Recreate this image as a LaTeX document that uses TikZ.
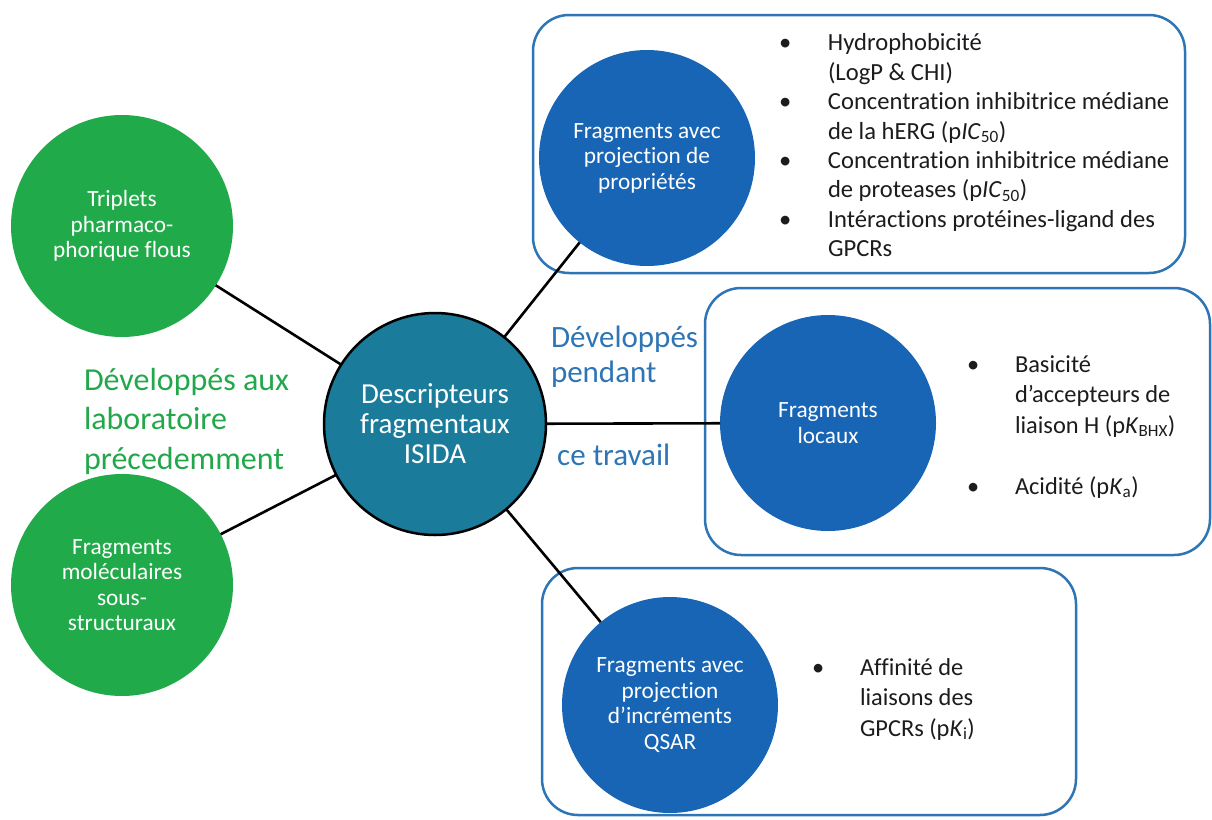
\documentclass[tikz,border=0pt]{standalone}
\usepackage{fontspec}
\setmainfont{Carlito}[Ligatures=NoCommon]
\definecolor{cgreen}{HTML}{21AA4A}
\definecolor{cblue}{HTML}{1765B4}
\definecolor{cteal}{HTML}{1A7B9A}
\definecolor{boxblue}{HTML}{2E75B6}
\definecolor{textgreen}{HTML}{22A84B}
\definecolor{textblue}{HTML}{2E75B6}
\definecolor{textblack}{HTML}{1C1C1C}
\begin{document}
\begin{tikzpicture}[x=1pt,y=-1pt,
  box/.style={draw=boxblue, line width=2.5pt, rounded corners=36pt},
  disc/.style={circle, text=white, inner sep=0pt, outer sep=0pt, align=center,
    font=\fontsize{23.3}{25.5}\selectfont},
  grn/.style={disc, fill=cgreen, minimum size=222pt},
  blu/.style={disc, fill=cblue, minimum size=216pt},
  ctr/.style={circle, fill=cteal, draw=black, line width=2.5pt, text=white,
    inner sep=0pt, outer sep=0pt, align=center, minimum size=222pt,
    font=\fontsize{29}{30}\selectfont},
  conn/.style={draw=black, line width=2.6pt},
  lst/.style={anchor=north west, inner sep=0pt, outer sep=0pt, text=textblack},
  lbl/.style={anchor=north west, inner sep=0pt, outer sep=0pt}
]
\useasboundingbox (0,0) rectangle (1212,819);
\fill[white] (0,0) rectangle (1212,819);

% boxes
\draw[box] (533,15) rectangle (1185,273);
\draw[box] (705,288) rectangle (1210,555);
\draw[box] (542,568) rectangle (1076,815);

% circles
\node[grn] (g1) at (122,226) {Triplets\\pharmaco-\\phorique flous};
\node[grn] (g2) at (122,585) {Fragments\\moléculaires\\sous-\\structuraux};
\node[ctr] (c) at (435,424) {Descripteurs\\fragmentaux\\ISIDA};
\node[blu] (b1) at (647,158) {Fragments avec\\projection de\\propriétés};
\node[blu] (b2) at (828,423) {Fragments\\locaux};
\node[blu] (b3) at (670,705) {Fragments avec\\projection\\d’incréments\\QSAR};

% connectors
\draw[conn] (c) -- (g1);
\draw[conn] (c) -- (g2);
\draw[conn] (c) -- (b1);
\draw[conn] (c) -- (b2);
\draw[conn] (c) -- (b3);

% side labels
\node[lbl, text=textgreen] (tg) at (84,362.35) {\fontsize{32}{39.5}\selectfont
  \begin{tabular}{@{}l@{}}Développés aux\\laboratoire\\précedemment\end{tabular}};
\node[lbl, text=textblue] (tb1) at (551,322.5) {\fontsize{31}{35}\selectfont
  \begin{tabular}{@{}l@{}}Développés\\pendant\end{tabular}};
\node[anchor=base west, inner sep=0pt, text=textblue, font=\fontsize{31}{35}\selectfont]
  (tb2) at (557,465) {ce travail};

% lists
\node[lst] (l1) at (779,30.4) {\fontsize{24.6}{29.4}\selectfont
  \begin{tabular}{@{}p{49pt}@{}l@{}}
  \textbullet & Hydrophobicité\\
   & (LogP \& CHI)\\
  \textbullet & Concentration inhibitrice médiane\\
   & de la hERG (p\textit{IC}\textsubscript{50})\\
  \textbullet & Concentration inhibitrice médiane\\
   & de proteases (p\textit{IC}\textsubscript{50})\\
  \textbullet & Intéractions protéines-ligand des\\
   & GPCRs
  \end{tabular}};
\node[lst] (l2) at (967,350.65) {\fontsize{24.4}{30.5}\selectfont
  \begin{tabular}{@{}p{48pt}@{}l@{}}
  \textbullet & Basicité\\
   & d’accepteurs de\\
   & liaison H (p\textit{K}\textsubscript{BHX})\\
   & \\
  \textbullet & Acidité (p\textit{K}\textsubscript{a})
  \end{tabular}};
\node[lst] (l3) at (812,653.65) {\fontsize{24.4}{30.5}\selectfont
  \begin{tabular}{@{}p{48pt}@{}l@{}}
  \textbullet & Affinité de\\
   & liaisons des\\
   & GPCRs (p\textit{K}\textsubscript{i})
  \end{tabular}};
\end{tikzpicture}
\end{document}
